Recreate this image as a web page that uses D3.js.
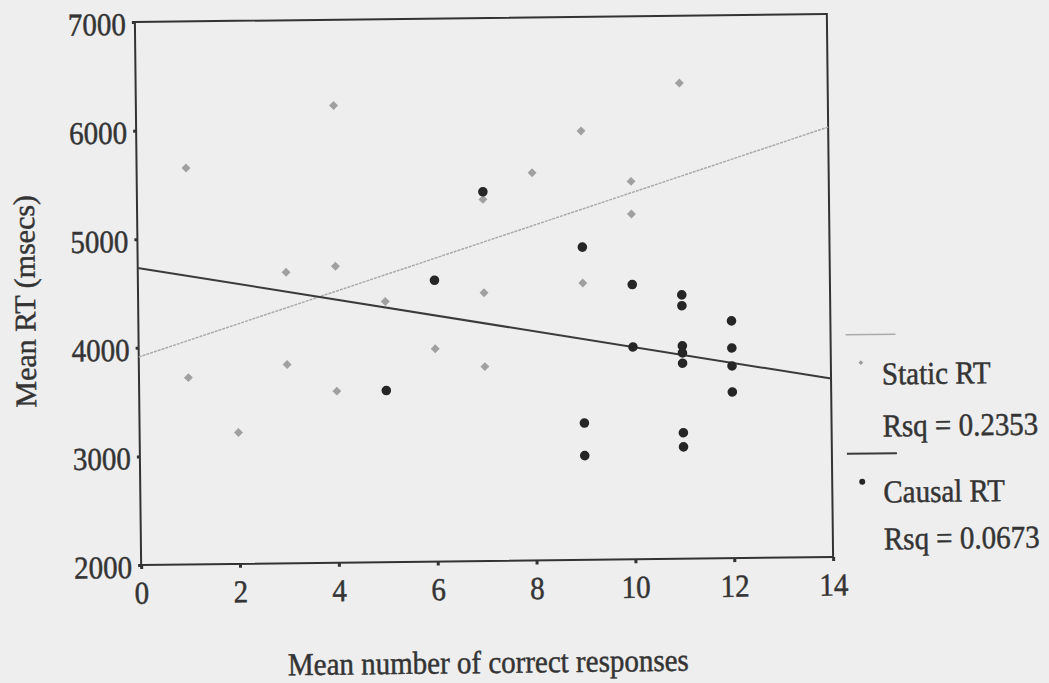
<!DOCTYPE html>
<html lang="en">
<head>
    <meta charset="UTF-8">
    <title>Mean RT by correct responses</title>
    <script src="https://cdn.jsdelivr.net/npm/d3@7"></script>
    <style>
        body { margin: 0; background: #eeeeee; }
        text { font-family: "Liberation Serif", "Times New Roman", serif; fill: #343434; stroke: #343434; stroke-width: 0.45px; }
    </style>
</head>
<body>
    <div id="chart"></div>
    <script>
// data
var staticX  = [1, 1, 2, 3, 3, 4, 4, 4, 5, 6, 7, 7, 7, 8, 9, 9, 10, 10, 11];
var staticRT = [5650, 3720, 3210, 4680, 3830, 6210, 4730, 3580, 4400, 3960, 5330, 4470, 3790, 5570, 5950, 4550, 5480, 5180, 6380];
var causalX  = [5, 6, 7, 9, 9, 9, 10, 10, 11, 11, 11, 11, 11, 11, 11, 12, 12, 12, 12];
var causalRT = [3580, 4590, 5400, 4880, 3260, 2960, 4530, 3955, 4430, 4330, 3960, 3895, 3800, 3160, 3030, 4185, 3935, 3770, 3530];
// regression lines: [intercept, slope]
var staticFit = [3915, 146];
var causalFit = [4735, -78];
var xTicks = [0, 2, 4, 6, 8, 10, 12, 14];
var yTicks = [2000, 3000, 4000, 5000, 6000, 7000];
var legendLabels = ["Static RT", "Rsq = 0.2353", "Causal RT", "Rsq = 0.0673"];

var margin = {top: 18, right: 219, bottom: 122, left: 138},
    width = 1049 - margin.left - margin.right,
    height = 683 - margin.top - margin.bottom;
var stretch = 1.1;   // the scanned lettering is a bit taller than it is wide

var svg = d3.select("#chart")
  .append("svg")
    .attr("width", 1049)
    .attr("height", 683)
    .style("display", "block")
    .style("background", "#eeeeee")
  .append("g")
    .attr("transform", "rotate(-0.66, 485, 290)");   // the scan sits slightly tilted

var g = svg.append("g")
    .attr("transform", "translate(" + margin.left + "," + margin.top + ")");

var x = d3.scaleLinear().domain([0, 14]).range([0, width]);
var y = d3.scaleLinear().domain([2000, 7000]).range([height, 0]);

// x axis
var xAxis = g.append("g")
    .attr("transform", "translate(0," + height + ")")
    .call(d3.axisBottom(x).tickValues(xTicks).tickSize(4).tickPadding(10.5));
xAxis.select(".domain").remove();
xAxis.selectAll("line").attr("stroke", "#333").attr("stroke-width", 3);
xAxis.selectAll("text")
    .style("font-size", "29px")
    .attr("fill", "#343434")
    .attr("transform", "scale(1," + stretch + ")");

// y axis
var yAxis = g.append("g")
    .call(d3.axisLeft(y).tickValues(yTicks).tickSize(3).tickPadding(6).tickFormat(d3.format("d")));
yAxis.select(".domain").remove();
yAxis.selectAll("line").attr("stroke", "#333").attr("stroke-width", 3);
yAxis.selectAll("text")
    .style("font-size", "29px")
    .attr("y", 2)
    .attr("fill", "#343434")
    .attr("transform", "scale(1," + stretch + ")");

// frame
g.append("rect")
    .attr("x", 0).attr("y", 0)
    .attr("width", width).attr("height", height)
    .attr("fill", "none")
    .attr("stroke", "#333")
    .attr("stroke-width", 2);

// fit lines
function fitLine(fit) {
  return [0, 14].map(function(d) { return {x: d, y: fit[0] + fit[1] * d}; });
}
var line = d3.line()
    .x(function(d) { return x(d.x); })
    .y(function(d) { return y(d.y); });

g.append("path")
    .datum(fitLine(staticFit))
    .attr("fill", "none")
    .attr("stroke", "#ababab")
    .attr("stroke-width", 1.5)
    .attr("stroke-dasharray", "3,1")
    .attr("d", line);

g.append("path")
    .datum(fitLine(causalFit))
    .attr("fill", "none")
    .attr("stroke", "#3a3a3a")
    .attr("stroke-width", 2)
    .attr("d", line);

// static points (gray diamonds)
var diamond = d3.symbol().type(d3.symbolSquare).size(40);
g.selectAll(".static")
  .data(staticX)
  .enter()
  .append("path")
    .attr("class", "static")
    .attr("d", diamond)
    .attr("transform", function(d, i) {
        return "translate(" + x(d) + "," + y(staticRT[i]) + ") rotate(45)";
    })
    .attr("fill", "#a0a0a0");

// causal points (black dots)
g.selectAll(".causal")
  .data(causalX)
  .enter()
  .append("circle")
    .attr("class", "causal")
    .attr("cx", function(d) { return x(d); })
    .attr("cy", function(d, i) { return y(causalRT[i]); })
    .attr("r", 4.8)
    .attr("fill", "#262626");

// legend
var legend = svg.append("g");
legend.append("line")
    .attr("x1", 845).attr("x2", 895).attr("y1", 339).attr("y2", 339)
    .attr("stroke", "#ababab").attr("stroke-width", 1.5);
legend.append("path")
    .attr("d", d3.symbol().type(d3.symbolSquare).size(12))
    .attr("transform", "translate(860,367) rotate(45)")
    .attr("fill", "#9c9c9c");
legend.append("line")
    .attr("x1", 845).attr("x2", 895).attr("y1", 458).attr("y2", 458)
    .attr("stroke", "#3a3a3a").attr("stroke-width", 2);
legend.append("circle")
    .attr("cx", 860).attr("cy", 486).attr("r", 3)
    .attr("fill", "#262626");

var legendY = [389, 441, 507, 554];
legend.selectAll(".ltext")
  .data(legendLabels)
  .enter()
  .append("text")
    .attr("class", "ltext")
    .attr("transform", function(d, i) {
        return "translate(881," + legendY[i] + ") scale(1," + stretch + ")";
    })
    .style("font-size", "29px")
    .text(function(d) { return d; });

// axis titles
svg.append("text")
    .attr("transform", "translate(484,673) scale(1," + stretch + ")")
    .attr("text-anchor", "middle")
    .style("font-size", "29px")
    .text("Mean number of correct responses");

svg.append("text")
    .attr("transform", "translate(35,296) rotate(-90)")
    .attr("text-anchor", "middle")
    .style("font-size", "30px")
    .text("Mean RT (msecs)");
    </script>
</body>
</html>
